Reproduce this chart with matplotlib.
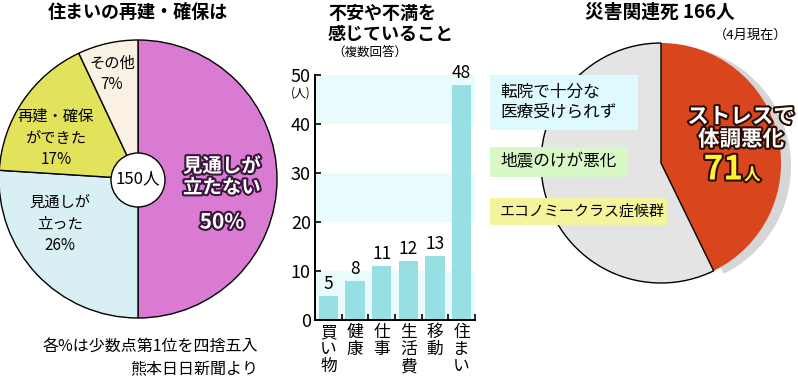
import matplotlib

matplotlib.use("Agg")

import matplotlib.pyplot as plt
import matplotlib.patheffects as pe
from matplotlib.patches import Circle, Rectangle, Wedge

plt.rcParams["font.family"] = ["Noto Sans CJK JP", "DejaVu Sans"]

# left pie: housing outlook (150 people)
housing_labels = ["見通しが\n立たない", "見通しが\n立った", "再建・確保\nができた", "その他"]
housing_pct = [50, 26, 17, 7]
housing_colors = ["#d97bd3", "#d8f0f4", "#e2e35b", "#fbf0e4"]

# middle bars: worries (multiple answers)
worry_labels = ["買い物", "健康", "仕事", "生活費", "移動", "住まい"]
worry_counts = [5, 8, 11, 12, 13, 48]

# right pie: disaster-related deaths
death_total = 166
death_stress = 71
death_other_labels = ["転院で十分な\n医療受けられず", "地震のけが悪化", "エコノミークラス症候群"]
death_box_colors = ["#dffafe", "#d8f8c8", "#f4f49c"]

fig = plt.figure(figsize=(7.98, 3.80), dpi=100)
fig.patch.set_facecolor("white")

# overlay in pixel-like coordinates (y up)
ax = fig.add_axes([0, 0, 1, 1])


def reset_overlay():
    ax.set_xlim(0, 798)
    ax.set_ylim(0, 380)
    ax.axis("off")


# ---------- left pie ----------
ax.pie(housing_pct, startangle=90, counterclock=False, colors=housing_colors,
       center=(138, 201), radius=139, frame=True,
       wedgeprops=dict(edgecolor="black", linewidth=1.0))
reset_overlay()
ax.add_patch(Circle((138, 200), 27, facecolor="white", edgecolor="black", lw=1.0, zorder=5))
ax.text(138, 201, "150人", ha="center", va="center", fontsize=12, zorder=6)

ax.text(138, 367, "住まいの再建・確保は", ha="center", va="center", fontsize=13, weight="bold")

white_fx = [pe.withStroke(linewidth=3, foreground="#3a163a")]
ax.text(222, 203, housing_labels[0], ha="center", va="center", fontsize=14,
        color="white", weight="bold", linespacing=1.15, path_effects=white_fx)
ax.text(222, 158, f"{housing_pct[0]}%", ha="center", va="center", fontsize=15,
        color="white", weight="bold", path_effects=white_fx)
ax.text(60, 156, f"{housing_labels[1]}\n{housing_pct[1]}%", ha="center", va="center",
        fontsize=11, linespacing=1.35)
ax.text(56, 242, f"{housing_labels[2]}\n{housing_pct[2]}%", ha="center", va="center",
        fontsize=11, linespacing=1.35)
ax.text(112, 306, f"{housing_labels[3]}\n{housing_pct[3]}%", ha="center", va="center",
        fontsize=11, linespacing=1.35)

ax.text(258, 33, "各%は少数点第1位を四捨五入", ha="right", va="center", fontsize=11.5)
ax.text(258, 10, "熊本日日新聞より", ha="right", va="center", fontsize=11.5)

# ---------- middle bars ----------
ax.text(328, 356, "不安や不満を\n感じていること", ha="left", va="center",
        fontsize=13, weight="bold", linespacing=1.1)
ax.text(332, 328, "（複数回答）", ha="left", va="center", fontsize=9)
ax.text(301, 287, "(人)", ha="center", va="center", fontsize=8.5)

bx = fig.add_axes([315 / 798, 60 / 380, 160 / 798, 245 / 380])
bx.set_facecolor("none")
for lo in range(0, 50, 20):
    bx.axhspan(lo, lo + 10, color="#e9fbfc", zorder=0, lw=0)
pos = list(range(len(worry_counts)))
bx.bar(pos, worry_counts, width=0.73, color="#97dfe2", zorder=2)
for p, v in zip(pos, worry_counts):
    bx.text(p, v + 0.6, str(v), ha="center", va="bottom", fontsize=12.5)
bx.set_xlim(-0.5, 5.5)
bx.set_ylim(0, 50)
bx.set_yticks([0, 10, 20, 30, 40, 50])
bx.tick_params(axis="y", direction="in", length=4, width=1.2, labelsize=13, pad=3)
bx.set_xticks(pos)
bx.set_xticklabels(["\n".join(s) for s in worry_labels], fontsize=12, va="top",
                   linespacing=1.0)
bx.tick_params(axis="x", which="major", length=0, pad=3)
bx.set_xticks([p + 0.5 for p in pos], minor=True)
bx.tick_params(axis="x", which="minor", direction="in", length=4, width=1.2)
for s in ["top", "right"]:
    bx.spines[s].set_visible(False)
for s in ["left", "bottom"]:
    bx.spines[s].set_linewidth(1.4)

# ---------- right pie ----------
rc = (661, 217)
r = 120
stress_deg = death_stress / death_total * 360
ax.add_patch(Wedge((rc[0] + 10, rc[1] - 3), r, 90 - stress_deg, 90,
                   facecolor="#8a8a8a", alpha=0.35, lw=0, zorder=1))
ax.pie([death_stress, death_total - death_stress], startangle=90, counterclock=False,
       colors=["#d9461e", "#e4e4e4"], center=rc, radius=r, explode=[0.06, 0],
       frame=True, wedgeprops=dict(linewidth=1.0))
ax.patches[-1].set_edgecolor("black")
ax.patches[-2].set_edgecolor("none")
reset_overlay()

ax.text(660, 368, f"災害関連死 {death_total}人", ha="center", va="center",
        fontsize=13.5, weight="bold")
ax.text(787, 345, "（4月現在）", ha="right", va="center", fontsize=9.5)

box_y = [(250, 305), (203, 233), (155, 182)]
box_right = [638, 628, 667]
box_size = [12, 12, 10.8]
for (y0, y1), xr, lab, col, fs in zip(box_y, box_right, death_other_labels,
                                      death_box_colors, box_size):
    ax.add_patch(Rectangle((490, y0), xr - 490, y1 - y0, facecolor=col, lw=0, zorder=4))
    ax.text(500, (y0 + y1) / 2, lab, ha="left", va="center", fontsize=fs,
            linespacing=1.2, zorder=5)

red_fx = [pe.withStroke(linewidth=3, foreground="#2a0d05")]
ax.text(741, 252, "ストレスで\n体調悪化", ha="center", va="center", fontsize=15.5,
        color="white", weight="bold", linespacing=1.1, path_effects=red_fx, zorder=6)
ax.text(743, 210, str(death_stress), ha="right", va="center", fontsize=24,
        color="#fff033", weight="bold", path_effects=red_fx, zorder=6)
ax.text(744, 205, "人", ha="left", va="center", fontsize=12,
        color="#fff033", weight="bold", path_effects=red_fx, zorder=6)

fig.savefig("out.png", dpi=100)
